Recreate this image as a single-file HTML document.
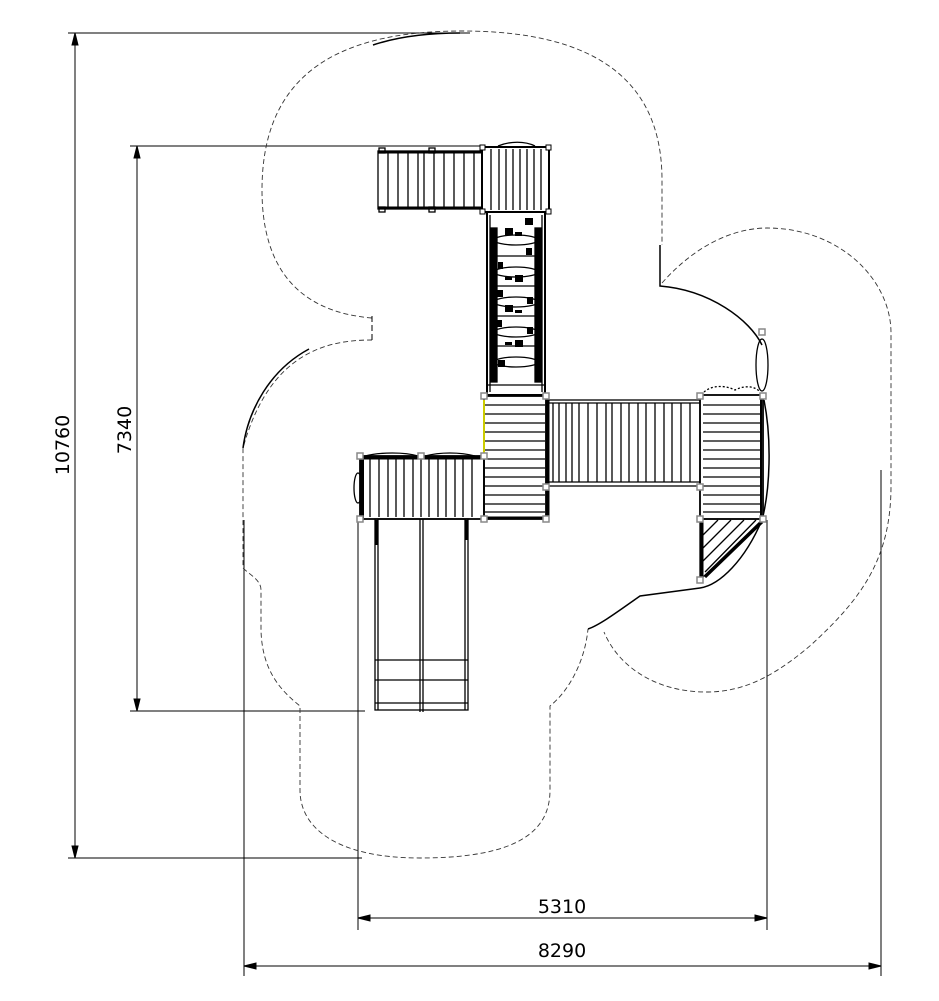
<!DOCTYPE html>
<html><head><meta charset="utf-8"><style>
html,body{margin:0;padding:0;background:#fff;}
svg{display:block;}
text{font-family:"DejaVu Sans","Liberation Sans",sans-serif;font-size:19px;fill:#000;}
</style></head><body>
<svg width="939" height="1001" viewBox="0 0 939 1001" xmlns="http://www.w3.org/2000/svg">
<g fill="none" stroke="#000" stroke-width="1">
<line x1="68" y1="33" x2="470" y2="33"/>
<line x1="68" y1="858" x2="362" y2="858"/>
<line x1="75" y1="33" x2="75" y2="858"/>
<path d="M75 33 l-3 12 l6 0 z M75 858 l-3 -12 l6 0 z" fill="#000"/>
<line x1="130" y1="146" x2="482" y2="146"/>
<line x1="130" y1="711" x2="365" y2="711"/>
<line x1="137" y1="146" x2="137" y2="711"/>
<path d="M137 146 l-3 12 l6 0 z M137 711 l-3 -12 l6 0 z" fill="#000"/>
<line x1="358" y1="520" x2="358" y2="930"/>
<line x1="767" y1="520" x2="767" y2="930"/>
<line x1="358" y1="918" x2="767" y2="918"/>
<path d="M358 918 l12 -3 l0 6 z M767 918 l-12 -3 l0 6 z" fill="#000"/>
<line x1="244" y1="520" x2="244" y2="976"/>
<line x1="881" y1="470" x2="881" y2="976"/>
<line x1="244" y1="966" x2="881" y2="966"/>
<path d="M244 966 l12 -3 l0 6 z M881 966 l-12 -3 l0 6 z" fill="#000"/>
</g>
<text x="562" y="913" text-anchor="middle">5310</text>
<text x="562" y="957" text-anchor="middle">8290</text>
<text transform="translate(69,445) rotate(-90)" text-anchor="middle">10760</text>
<text transform="translate(131,430) rotate(-90)" text-anchor="middle">7340</text>

<g fill="none" stroke="#333" stroke-width="0.9" stroke-dasharray="5 3">
<path d="M372 318 C300 312 262 270 262 190 C262 80 330 31 462 31 C595 31 662 80 662 180 L662 245"/>
<path d="M372 340 C330 340 270 350 243 448 L243 568 C250 575 261 580 261 590 L261 630 C262 670 280 690 300 706 L300 790 C300 830 340 858 420 858 C520 858 550 830 550 790 L550 706 C570 690 585 660 588 629"/>
<path d="M662 283 C700 240 740 228 767 228 C840 228 891 280 891 333 L891 486 C891 560 860 600 811 645 C770 680 740 692 706 692 C660 692 620 670 604 632"/>
</g>
<line x1="372" y1="316" x2="372" y2="342" stroke="#000" stroke-dasharray="6 3"/>
<g fill="none" stroke="#000" stroke-width="1.5">
<path d="M373 45 C400 36 430 33 460 33"/>
<path d="M309 349 C270 370 248 410 243 448"/>
<path d="M660 245 L660 286 C710 290 750 320 762 345"/>
<path d="M764 400 C772 440 770 490 762 520 C745 560 720 585 700 588 L640 596 C620 610 600 625 588 629"/>
</g>

<g fill="none" stroke="#000" stroke-width="1.3">
<rect x="378" y="151" width="104" height="58"/>
<line x1="378" y1="152" x2="482" y2="152" stroke-width="3"/>
<line x1="378" y1="208" x2="482" y2="208" stroke-width="3"/>
<path d="M388 152V208M398 152V208M408 152V208M418 152V208M424 152V208M434 152V208M444 152V208M454 152V208M464 152V208M474 152V208"/>
<rect x="379" y="148" width="6" height="5"/><rect x="379" y="207" width="6" height="5"/>
<rect x="429" y="148" width="6" height="5"/><rect x="429" y="207" width="6" height="5"/>
<rect x="482" y="147" width="67" height="65" stroke-width="2"/>
<path d="M491 149V210M499 149V210M506 149V210M513 149V210M520 149V210M527 149V210M534 149V210M541 149V210"/>
<path d="M498 146 C510 141 525 141 535 146"/>
<rect x="487" y="212" width="58" height="183" stroke-width="2"/>
<rect x="491" y="228" width="6" height="154" fill="#000"/>
<rect x="535" y="228" width="6" height="154" fill="#000"/>
<line x1="490" y1="215" x2="490" y2="392"/><line x1="542" y1="215" x2="542" y2="392"/>
<ellipse cx="516" cy="240" rx="22" ry="5"/>
<ellipse cx="516" cy="272" rx="22" ry="5"/>
<ellipse cx="516" cy="302" rx="22" ry="5"/>
<ellipse cx="516" cy="332" rx="22" ry="5"/>
<ellipse cx="516" cy="362" rx="22" ry="5"/>
<line x1="497" y1="256" x2="535" y2="256"/><line x1="497" y1="286" x2="535" y2="286"/>
<line x1="497" y1="316" x2="535" y2="316"/><line x1="497" y1="346" x2="535" y2="346"/>
<line x1="486" y1="385" x2="546" y2="385"/>
</g>
<g fill="#000">
<rect x="525" y="218" width="8" height="7"/><rect x="505" y="228" width="8" height="7"/><rect x="515" y="232" width="7" height="4"/>
<rect x="498" y="262" width="5" height="7"/><rect x="526" y="248" width="6" height="7"/><rect x="515" y="275" width="8" height="7"/><rect x="505" y="277" width="7" height="3"/>
<rect x="497" y="290" width="6" height="7"/><rect x="527" y="297" width="6" height="7"/>
<rect x="505" y="305" width="8" height="7"/><rect x="515" y="310" width="7" height="3"/>
<rect x="497" y="320" width="5" height="7"/><rect x="527" y="327" width="6" height="7"/>
<rect x="515" y="340" width="8" height="7"/><rect x="505" y="342" width="7" height="3"/>
<rect x="498" y="360" width="7" height="7"/>
</g>

<g fill="none" stroke="#000" stroke-width="1.3">
<rect x="484" y="396" width="62" height="123" stroke-width="1.8"/>
<path d="M485 405H545M485 414H545M485 423H545M485 432H545M485 441H545M485 450H545M485 459H545M485 468H545M485 477H545M485 486H545M485 495H545M485 504H545M485 512H545"/>
<line x1="484" y1="518" x2="546" y2="518" stroke-width="3"/>
<line x1="484" y1="400" x2="484" y2="455" stroke="#cc0" stroke-width="2"/>
<rect x="360" y="456" width="124" height="63" stroke-width="1.8"/>
<line x1="360" y1="458" x2="484" y2="458" stroke-width="3"/>
<line x1="362" y1="458" x2="362" y2="518" stroke-width="4"/>
<path d="M370 459V517M379 459V517M388 459V517M396 459V517M404 459V517M413 459V517M421 459V517M429 459V517M438 459V517M446 459V517M455 459V517M463 459V517M472 459V517"/>
<path d="M365 456 C380 452 405 452 418 456 M425 456 C440 452 460 452 475 456"/>
<ellipse cx="358" cy="488" rx="4" ry="15"/>
<rect x="375" y="519" width="93" height="191"/>
<line x1="378" y1="519" x2="378" y2="710"/><line x1="465" y1="519" x2="465" y2="710"/>
<line x1="420" y1="519" x2="420" y2="712"/><line x1="423" y1="519" x2="423" y2="712"/>
<line x1="375" y1="660" x2="468" y2="660"/><line x1="375" y1="680" x2="468" y2="680"/>
<line x1="375" y1="703" x2="468" y2="703"/>
<line x1="376" y1="520" x2="376" y2="545" stroke-width="3"/><line x1="467" y1="520" x2="467" y2="540" stroke-width="3"/>
<rect x="546" y="400" width="154" height="86"/>
<line x1="546" y1="403" x2="700" y2="403"/><line x1="546" y1="482" x2="700" y2="482"/>
<path d="M553 403V482M559 403V482M566 403V482M572 403V482M579 403V482M588 403V482M597 403V482M606 403V482M612 403V482M621 403V482M629 403V482M638 403V482M646 403V482M655 403V482M664 403V482M672 403V482M681 403V482M690 403V482"/>
<line x1="548" y1="400" x2="548" y2="519" stroke-width="3"/>
<rect x="700" y="395" width="63" height="124" stroke-width="1.8"/>
<path d="M703 405H761M703 414H761M703 423H761M703 432H761M703 441H761M703 450H761M703 459H761M703 468H761M703 477H761M703 486H761M703 495H761M703 504H761M703 512H761"/>
<line x1="761" y1="395" x2="761" y2="519" stroke-width="2"/>
<path d="M704 392 C712 385 725 385 735 390 C745 385 755 386 760 392" stroke-dasharray="2 2"/>
<path d="M700 519 L763 519 L700 580 Z"/>
<line x1="702" y1="519" x2="702" y2="580" stroke-width="3"/>
<line x1="705" y1="577" x2="762" y2="522" stroke-width="3"/>
<path d="M703 535L718 520M703 548L731 520M703 561L744 520M705 572L756 520"/>
<ellipse cx="762" cy="365" rx="6" ry="26"/>
</g>
<g fill="#fff" stroke="#888" stroke-width="1.5">
<rect x="357" y="453" width="6" height="6"/><rect x="418" y="453" width="6" height="6"/>
<rect x="481" y="453" width="6" height="6"/><rect x="357" y="516" width="6" height="6"/>
<rect x="481" y="516" width="6" height="6"/><rect x="543" y="516" width="6" height="6"/>
<rect x="481" y="393" width="6" height="6"/><rect x="543" y="393" width="6" height="6"/>
<rect x="543" y="484" width="6" height="6"/><rect x="697" y="484" width="6" height="6"/>
<rect x="697" y="393" width="6" height="6"/><rect x="760" y="393" width="6" height="6"/>
<rect x="697" y="516" width="6" height="6"/><rect x="760" y="516" width="6" height="6"/>
<rect x="697" y="577" width="6" height="6"/><rect x="759" y="329" width="6" height="6"/>
</g>
<g fill="#fff" stroke="#000" stroke-width="1">
<rect x="480" y="145" width="5" height="5"/><rect x="546" y="145" width="5" height="5"/>
<rect x="480" y="209" width="5" height="5"/><rect x="546" y="209" width="5" height="5"/>
</g>
</svg>
</body></html>
